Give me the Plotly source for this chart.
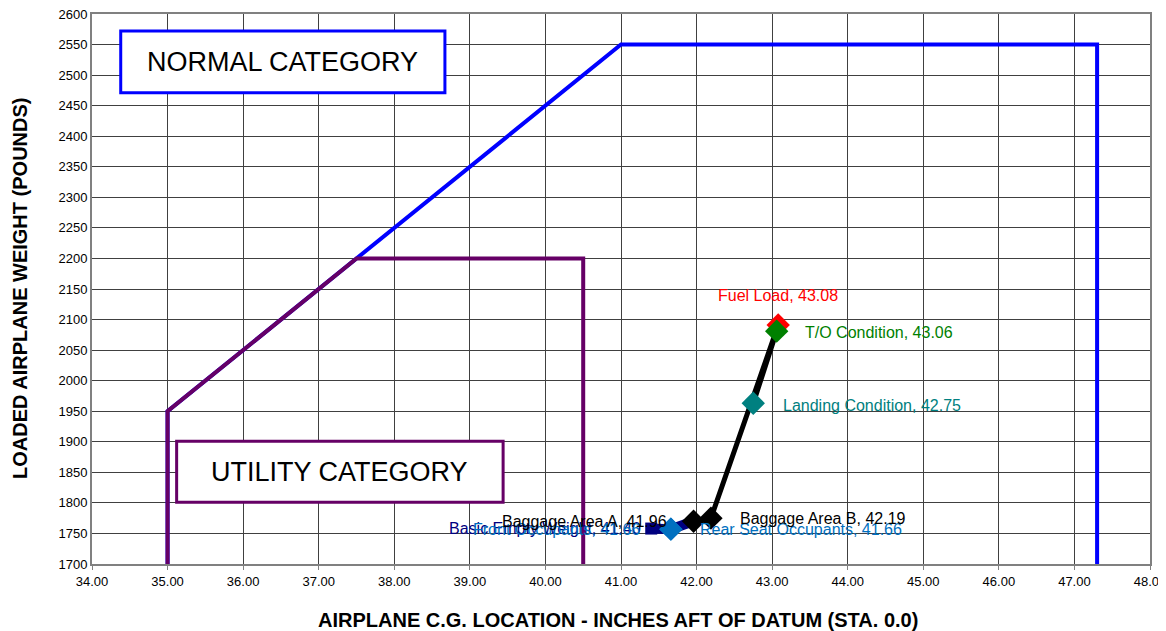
import plotly.graph_objects as go

# Envelope data
normal_x = [35.0, 35.0, 41.0, 47.3, 47.3]
normal_y = [1700, 1950, 2550, 2550, 1700]
utility_x = [35.0, 35.0, 37.5, 40.5, 40.5]
utility_y = [1700, 1950, 2200, 2200, 1700]

# Loading points
pt_names = ["Basic Empty Weight", "Front Occupants", "Rear Seat Occupants",
            "Baggage Area A", "Baggage Area B", "Fuel Load", "T/O Condition",
            "Landing Condition"]
pt_x = [41.40, 41.66, 41.66, 41.96, 42.19, 43.08, 43.06, 42.75]
pt_y = [1758, 1757, 1757, 1770, 1775, 2091, 2081, 1963]
pt_colors = ["#000080", "#0070C0", "#0070C0", "#000000", "#000000",
             "#FF0000", "#008000", "#008080"]
pt_symbols = ["square", "diamond", "diamond", "diamond", "diamond",
              "diamond", "diamond", "diamond"]
# label placement (anchor, pixel shifts)
lab_anchor = ["right", "right", "left", "right", "left", "center", "left", "left"]
lab_dx = [-8, -29, 27, -25, 27, 0, 26, 28]
lab_dy = [0, 0, 0, 0, 0, 30, -1, -2]

# loading path (indices into points)
path_navy = [0, 1, 3]
path_black = [3, 4, 5, 6, 7]

x_ticks = [34 + i for i in range(15)]
y_ticks = [1700 + 50 * i for i in range(19)]

FONT = "Arial, Liberation Sans, sans-serif"

fig = go.Figure()

fig.add_trace(go.Scatter(x=normal_x, y=normal_y, mode="lines",
                         line=dict(color="#0000FF", width=4), hoverinfo="skip"))
fig.add_trace(go.Scatter(x=utility_x, y=utility_y, mode="lines",
                         line=dict(color="#660066", width=4), hoverinfo="skip"))

fig.add_trace(go.Scatter(x=[pt_x[i] for i in path_navy], y=[pt_y[i] for i in path_navy],
                         mode="lines", line=dict(color="#000080", width=10)))
fig.add_trace(go.Scatter(x=[pt_x[i] for i in path_black], y=[pt_y[i] for i in path_black],
                         mode="lines", line=dict(color="#000000", width=5)))

for i, n in enumerate(pt_names):
    fig.add_trace(go.Scatter(
        x=[pt_x[i]], y=[pt_y[i]], mode="markers",
        marker=dict(symbol=pt_symbols[i], size=18 if pt_symbols[i] == "diamond" else 12,
                    color=pt_colors[i]),
    ))
    fig.add_annotation(x=pt_x[i], y=pt_y[i], text="%s, %.2f" % (n, pt_x[i]),
                       showarrow=False, xanchor=lab_anchor[i], yanchor="middle",
                       xshift=lab_dx[i], yshift=lab_dy[i],
                       font=dict(family=FONT, size=16, color=pt_colors[i]))

# category boxes
fig.add_shape(type="rect", x0=34.38, x1=38.67, y0=2471, y1=2572,
              line=dict(color="#0000FF", width=3), fillcolor="white", layer="above")
fig.add_shape(type="rect", x0=35.12, x1=39.44, y0=1801, y1=1901,
              line=dict(color="#660066", width=3), fillcolor="white", layer="above")
fig.add_annotation(x=(34.38 + 38.67) / 2, y=(2471 + 2572) / 2, text="NORMAL CATEGORY",
                   showarrow=False, font=dict(family=FONT, size=27, color="black"))
fig.add_annotation(x=(35.12 + 39.44) / 2, y=(1801 + 1901) / 2, text="UTILITY CATEGORY",
                   showarrow=False, font=dict(family=FONT, size=27, color="black"))

# axis titles
fig.add_annotation(xref="paper", yref="paper", x=0.497, y=-0.0, yshift=-56,
                   text="<b>AIRPLANE C.G. LOCATION - INCHES AFT OF DATUM (STA. 0.0)</b>",
                   showarrow=False, yanchor="middle",
                   font=dict(family=FONT, size=20, color="black"))
fig.add_annotation(xref="paper", yref="paper", x=0, xshift=-72, y=0.5,
                   text="<b>LOADED AIRPLANE WEIGHT (POUNDS)</b>", textangle=-90,
                   showarrow=False, xanchor="center",
                   font=dict(family=FONT, size=20, color="black"))

fig.update_layout(
    width=1166, height=631,
    margin=dict(l=84, r=24, t=6, b=75, autoexpand=False),
    paper_bgcolor="white", plot_bgcolor="white",
    showlegend=False,
    font=dict(family=FONT, size=13, color="black"),
    xaxis=dict(range=[34, 48], tickvals=x_ticks,
               ticktext=["%.2f" % v for v in x_ticks],
               showgrid=True, gridcolor="#404040", gridwidth=1,
               showline=True, linecolor="#808080", linewidth=2, mirror=True,
               ticks="outside", ticklen=4, tickcolor="#808080", zeroline=False,
               tickfont=dict(size=13), automargin=False, ticklabeloverflow="allow"),
    yaxis=dict(range=[1700, 2600], tickvals=y_ticks,
               ticktext=[str(v) for v in y_ticks],
               showgrid=True, gridcolor="#404040", gridwidth=1,
               showline=True, linecolor="#808080", linewidth=2, mirror=True,
               ticks="", zeroline=False, tickfont=dict(size=13), automargin=False,
               ticklabeloverflow="allow"),
)

fig.write_html("out.html")
